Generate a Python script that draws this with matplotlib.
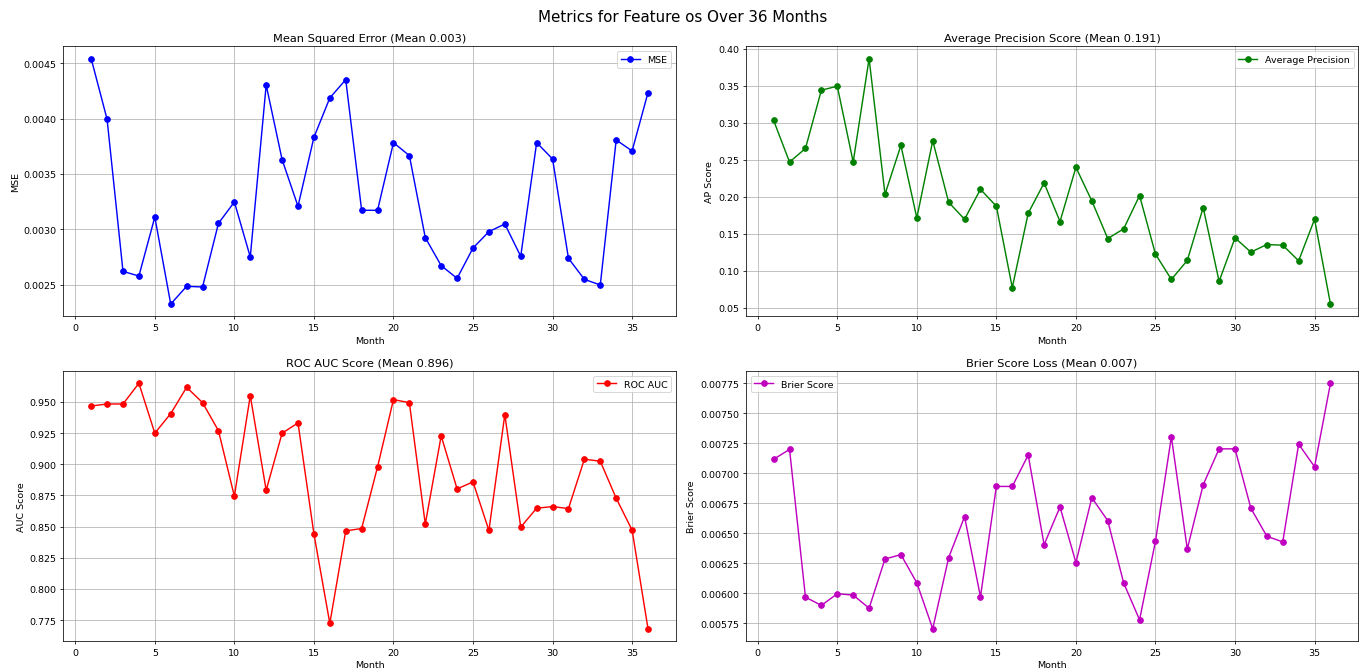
import numpy as np
import matplotlib
matplotlib.use('Agg')
import matplotlib.pyplot as plt

# monthly metric values
months = list(range(1, 37))

mse = [0.004542, 0.003994, 0.002620, 0.002578, 0.003111, 0.002325, 0.002485, 0.002479,
       0.003054, 0.003247, 0.002750, 0.004304, 0.003630, 0.003208, 0.003831, 0.004187,
       0.004352, 0.003172, 0.003172, 0.003783, 0.003666, 0.002925, 0.002672, 0.002557,
       0.002831, 0.002979, 0.003048, 0.002756, 0.003783, 0.003636, 0.002738, 0.002548,
       0.002497, 0.003807, 0.003708, 0.004235]

avg_prec = [0.3032, 0.2470, 0.2654, 0.3442, 0.3496, 0.2470, 0.3869, 0.2034, 0.2695, 0.1714,
            0.2758, 0.1926, 0.1696, 0.2101, 0.1872, 0.0770, 0.1777, 0.2187, 0.1665, 0.2398,
            0.1944, 0.1435, 0.1566, 0.2016, 0.1224, 0.0882, 0.1139, 0.1854, 0.0855, 0.1444,
            0.1251, 0.1354, 0.1345, 0.1134, 0.1696, 0.0549]

roc_auc = [0.9468, 0.9484, 0.9484, 0.9650, 0.9250, 0.9407, 0.9618, 0.9495, 0.9270, 0.8744,
           0.9551, 0.8792, 0.9250, 0.9332, 0.8442, 0.7724, 0.8466, 0.8485, 0.8979, 0.9519,
           0.9495, 0.8520, 0.9228, 0.8803, 0.8859, 0.8469, 0.9399, 0.8496, 0.8648, 0.8661,
           0.8645, 0.9041, 0.9025, 0.8728, 0.8472, 0.7681]

brier = [0.007118, 0.007199, 0.005969, 0.005900, 0.005997, 0.005986, 0.005877, 0.006287,
         0.006323, 0.006088, 0.005706, 0.006298, 0.006639, 0.005972, 0.006891, 0.006891,
         0.007152, 0.006406, 0.006720, 0.006257, 0.006797, 0.006606, 0.006088, 0.005780,
         0.006434, 0.007304, 0.006370, 0.006905, 0.007204, 0.007204, 0.006708, 0.006476,
         0.006429, 0.007243, 0.007055, 0.007750]

# big figure, rendered at low dpi so it lands at 1365x673
fig, axes = plt.subplots(2, 2, figsize=(20, 9.86), dpi=68.25)
fig.suptitle('Metrics for Feature os Over 36 Months', fontsize=16, y=0.985)

ax = axes[0, 0]
ax.plot(months, mse, marker='o', color='b', label='MSE')
ax.set_title('Mean Squared Error (Mean 0.003)')
ax.set_xlabel('Month')
ax.set_ylabel('MSE')
ax.legend(loc='upper right')
ax.grid(True)

ax = axes[0, 1]
ax.plot(months, avg_prec, marker='o', color='g', label='Average Precision')
ax.set_title('Average Precision Score (Mean 0.191)')
ax.set_xlabel('Month')
ax.set_ylabel('AP Score')
ax.legend(loc='upper right')
ax.grid(True)

ax = axes[1, 0]
ax.plot(months, roc_auc, marker='o', color='r', label='ROC AUC')
ax.set_title('ROC AUC Score (Mean 0.896)')
ax.set_xlabel('Month')
ax.set_ylabel('AUC Score')
ax.legend(loc='upper right')
ax.grid(True)

ax = axes[1, 1]
ax.plot(months, brier, marker='o', color='m', label='Brier Score')
ax.set_title('Brier Score Loss (Mean 0.007)')
ax.set_xlabel('Month')
ax.set_ylabel('Brier Score')
ax.legend(loc='upper left')
ax.grid(True)

plt.subplots_adjust(left=0.0464, right=0.9951, top=0.9297, bottom=0.0461,
                    wspace=0.1142, hspace=0.2028)
plt.savefig('out.png', dpi=68.25)
